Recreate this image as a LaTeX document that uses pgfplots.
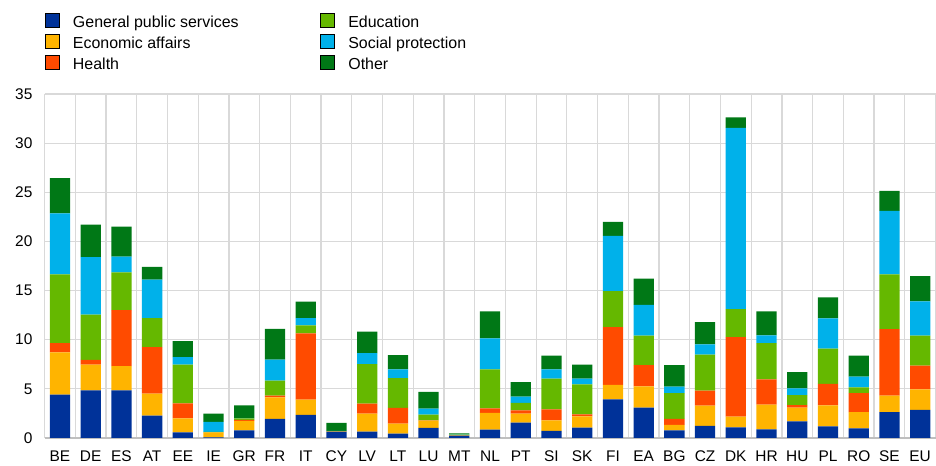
\documentclass[border=0pt]{standalone}
\usepackage{fontspec}
\setmainfont{Liberation Sans}
\usepackage{pgfplots}
\usepackage{pgfplotstable}
\pgfplotsset{compat=1.18}

\definecolor{cGps}{HTML}{003299}
\definecolor{cEco}{HTML}{FFB400}
\definecolor{cHea}{HTML}{FF4B00}
\definecolor{cEdu}{HTML}{65B800}
\definecolor{cSoc}{HTML}{00B1EA}
\definecolor{cOth}{HTML}{007816}
\definecolor{gridgray}{HTML}{D9D9D9}
\definecolor{axisgray}{HTML}{BFBFBF}

% spending by function, per country
\pgfplotstableread{
x  gps   eco   hea   edu   soc   oth
0  4.40  4.30  0.95  7.00  6.20  3.60
1  4.85  2.60  0.50  4.60  5.85  3.30
2  4.85  2.45  5.70  3.85  1.60  3.05
3  2.27  2.23  4.75  2.95  3.90  1.30
4  0.58  1.42  1.52  3.93  0.78  1.63
5  0.05  0.52  0.01  0.05  1.00  0.84
6  0.78  0.95  0.10  0.15  0.05  1.28
7  1.93  2.20  0.17  1.53  2.13  3.15
8  2.34  1.56  6.74  0.81  0.75  1.66
9  0.61  0.02  0.02  0.03  0.03  0.82
10 0.64  1.83  1.02  4.03  1.12  2.17
11 0.44  1.02  1.59  3.05  0.88  1.46
12 1.02  0.74  0.02  0.59  0.61  1.72
13 0.23  0.05  0.02  0.05  0.02  0.10
14 0.85  1.69  0.48  3.96  3.15  2.75
15 1.56  0.91  0.34  0.75  0.64  1.49
16 0.71  1.09  1.11  3.12  0.95  1.39
17 1.05  1.15  0.21  3.05  0.57  1.42
18 3.93  1.46  5.89  3.66  5.63  1.42
19 3.08  2.17  2.17  2.98  3.15  2.65
20 0.78  0.54  0.61  2.64  0.65  2.20
21 1.22  2.07  1.52  3.66  1.05  2.27
22 1.08  1.09  8.10  2.84 18.44  1.08
23 0.88  2.51  2.57  3.70  0.78  2.44
24 1.69  1.39  0.27  1.02  0.68  1.66
25 1.19  2.13  2.17  3.59  3.09  2.13
26 0.98  1.66  1.93  0.58  1.09  2.13
27 2.64  1.66  6.78  5.56  6.47  2.03
28 2.85  2.10  2.40  3.05  3.49  2.58
}\data

\newcommand\ls{\rule[-4.8bp]{0pt}{21bp}}

\begin{document}
\begin{tikzpicture}
\begin{axis}[
    name=ax,
    scale only axis,
    width=891bp, height=344bp,
    ybar stacked,
    bar width=0.66,
    xmin=-0.5, xmax=28.5,
    ymin=0, ymax=35,
    xtick={0,...,28},
    xticklabels={BE,DE,ES,AT,EE,IE,GR,FR,IT,CY,LV,LT,LU,MT,NL,PT,SI,SK,FI,EA,BG,CZ,DK,HR,HU,PL,RO,SE,EU},
    minor xtick={-0.5,0.5,...,28.5},
    ytick={0,5,...,35},
    xminorgrids, ymajorgrids,
    major grid style={gridgray, line width=1.2bp},
    minor grid style={gridgray, line width=1.2bp},
    major tick length=0pt, minor tick length=0pt,
    axis x line*=bottom, axis y line*=left,
    x axis line style={-, draw=axisgray, line width=1.5bp},
    y axis line style={draw=none},
    tick label style={font=\fontsize{15.5}{18}\selectfont},
    /pgf/number format/assume math mode=true,
    yticklabel style={anchor=east, inner sep=0pt, xshift=-12bp},
    xticklabel style={anchor=north, inner sep=0pt, yshift=-13bp},
    legend image code/.code={\fill[#1] (0bp,-7bp) rectangle (14bp,7bp);},
    legend columns=2,
    legend cell align=left,
    legend style={
      at={(0,1.2398)}, anchor=north west,
      draw=none, fill=none,
      inner sep=0pt, outer sep=0pt, row sep=3bp,
      nodes={inner sep=0pt, outer sep=0pt, font=\fontsize{16}{21}\selectfont},
      /tikz/every odd column/.append style={column sep=14bp},
      /tikz/every even column/.append style={column sep=0bp},
    },
]
  % legend order: column-wise as in the reference
  \addlegendimage{fill=cGps}
  \addlegendimage{fill=cEdu}
  \addlegendimage{fill=cEco}
  \addlegendimage{fill=cSoc}
  \addlegendimage{fill=cHea}
  \addlegendimage{fill=cOth}

  \addplot[fill=cGps, draw=none] table[x=x, y=gps] {\data};
  \addplot[fill=cEco, draw=none] table[x=x, y=eco] {\data};
  \addplot[fill=cHea, draw=none] table[x=x, y=hea] {\data};
  \addplot[fill=cEdu, draw=none] table[x=x, y=edu] {\data};
  \addplot[fill=cSoc, draw=none] table[x=x, y=soc] {\data};
  \addplot[fill=cOth, draw=none] table[x=x, y=oth] {\data};

  \legend{\makebox[247bp][l]{\ls General public services},{\ls Education},
          \makebox[247bp][l]{\ls Economic affairs},{\ls Social protection},
          \makebox[247bp][l]{\ls Health},{\ls Other}}
\end{axis}
\pgfresetboundingbox
\path[use as bounding box] ([xshift=-44.6bp,yshift=-28bp]ax.south west)
  rectangle ([xshift=0.5bp,yshift=94bp]ax.north east);
\end{tikzpicture}
\end{document}
